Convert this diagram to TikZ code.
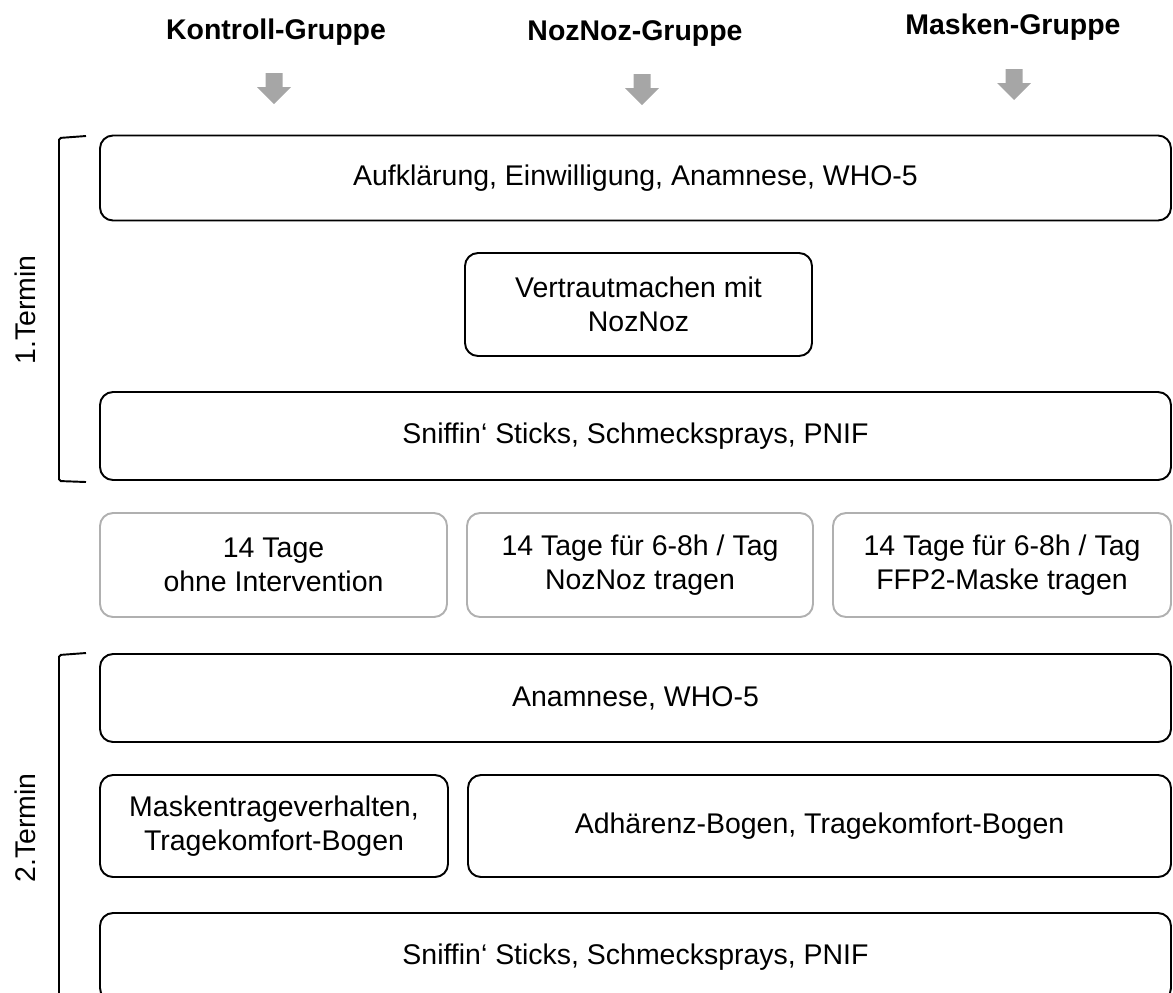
\documentclass[tikz,border=0pt]{standalone}
\usepackage{fontspec}
\setmainfont{Liberation Sans}
\usepackage{tikz}
\definecolor{arrowgray}{HTML}{A6A6A6}
\definecolor{boxgray}{HTML}{B0B0B0}

\begin{document}
\begin{tikzpicture}[x=0.02cm,y=-0.02cm]
        \useasboundingbox (0,0) rectangle (1173,992);
        \tikzstyle{stage} = [draw,rounded corners=0.26cm,line width=1.1pt,align=center,inner sep=0pt,font=\fontsize{16.2}{19.5}\selectfont]
        \tikzstyle{wait} = [stage,draw=boxgray]
        \tikzstyle{group} = [font=\fontsize{16.2}{19.5}\selectfont\bfseries]
        \tikzstyle{termin} = [rotate=90,font=\fontsize{16.2}{19.5}\selectfont]
        \tikzstyle{bracket} = [line width=1.1pt,rounded corners=1pt]

        \foreach \l/\x/\y/\t in {kg/276/32/Kontroll-Gruppe, ng/635/34/NozNoz-Gruppe,
          mg/1013/27/Masken-Gruppe} {
          \node[group] (\l) at (\x,\y) {\t};
        }
        \foreach \x/\y in {274/73, 642/74, 1014/69} {
          \fill[arrowgray] (\x-8.5,\y) -- (\x+8.5,\y) -- (\x+8.5,\y+14) -- (\x+17,\y+14)
            -- (\x,\y+31) -- (\x-17,\y+14) -- (\x-8.5,\y+14) -- cycle;
        }

        % 1. Termin
        \node[stage,minimum width=1071*0.02cm,minimum height=85*0.02cm] (aufkl) at (635.5,178)
          {Aufklärung, Einwilligung, Anamnese, WHO-5};
        \node[stage,minimum width=347*0.02cm,minimum height=103*0.02cm] (vertraut) at (638.5,304.5)
          {Vertrautmachen mit\\NozNoz};
        \node[stage,minimum width=1071*0.02cm,minimum height=88*0.02cm] (sniff1) at (635.5,436)
          {Sniffin‘ Sticks, Schmecksprays, PNIF};

        % 14 Tage
        \node[wait,minimum width=347*0.02cm,minimum height=104*0.02cm] (ohne) at (273.5,565)
          {14 Tage\\ohne Intervention};
        \node[wait,minimum width=346*0.02cm,minimum height=104*0.02cm] (noz) at (640,565)
          {14 Tage für 6-8h / Tag\\NozNoz tragen};
        \node[wait,minimum width=338*0.02cm,minimum height=104*0.02cm] (ffp) at (1002,565)
          {14 Tage für 6-8h / Tag\\FFP2-Maske tragen};

        % 2. Termin
        \node[stage,minimum width=1071*0.02cm,minimum height=88*0.02cm] (anam) at (635.5,698)
          {Anamnese, WHO-5};
        \node[stage,minimum width=348*0.02cm,minimum height=102*0.02cm] (maskver) at (274,826)
          {Maskentrageverhalten,\\Tragekomfort-Bogen};
        \node[stage,minimum width=703*0.02cm,minimum height=102*0.02cm] (adh) at (819.5,826)
          {Adhärenz-Bogen, Tragekomfort-Bogen};
        \node[stage,minimum width=1071*0.02cm,minimum height=88*0.02cm] (sniff2) at (635.5,957)
          {Sniffin‘ Sticks, Schmecksprays, PNIF};

        \draw[bracket] (86,136) -- (59,138) -- (59,481) -- (86,482);
        \draw[bracket] (86,653) -- (59,655) -- (59,1000);
        \node[termin] (t1) at (25,310) {1.Termin};
        \node[termin] (t2) at (25,828) {2.Termin};
      \end{tikzpicture}
\end{document}
